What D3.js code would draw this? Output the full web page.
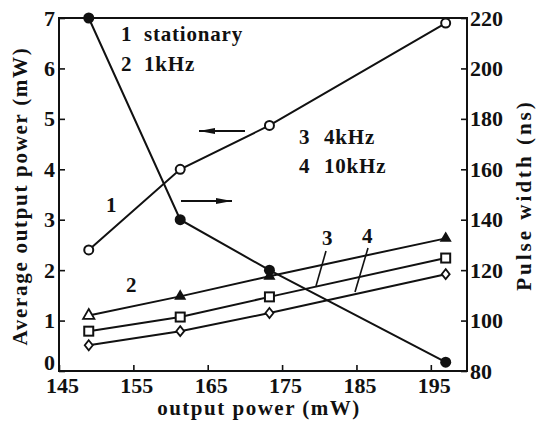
<!DOCTYPE html>
<html lang="en">
<head>
    <meta charset="UTF-8">
    <title>Output power vs pulse width</title>
    <script src="https://d3js.org/d3.v7.min.js"></script>
    <style>
        body { margin: 0; background: #fff; }
        text { font-family: "Liberation Serif", "DejaVu Serif", serif; fill: #111; font-weight: bold; }
    </style>
</head>
<body>
<script>
    // data
    var powers = [149, 161.3, 173.3, 197];           // output power (mW)
    var stationary = [2.4, 4.0, 4.87, 6.9];          // curve 1, average output power (mW)
    var khz1 = [1.1, 1.48, 1.88, 2.63];              // curve 2
    var khz4 = [0.79, 1.07, 1.47, 2.24];             // curve 3
    var khz10 = [0.51, 0.79, 1.15, 1.92];            // curve 4
    var pulseWidth = [220, 140, 120, 83.5];          // pulse width (ns), right axis
    var xTicks = [145, 155, 165, 175, 185, 195];
    var yTicks = [0, 1, 2, 3, 4, 5, 6, 7];
    var yRTicks = [80, 100, 120, 140, 160, 180, 200, 220];

    var width = 536, height = 423;
    var pLeft = 59, pRight = 467, pTop = 18, pBottom = 371;

    var svg = d3.select("body").append("svg")
        .attr("width", width)
        .attr("height", height);

    var x = d3.scaleLinear().domain([145, 200]).range([pLeft, pRight + 1]);
    var y = d3.scaleLinear().domain([0, 7]).range([pBottom, pTop]);
    var yR = d3.scaleLinear().domain([80, 220]).range([pBottom, pTop]);

    // axes, ticks pointing inward
    var gx = svg.append("g").attr("transform", "translate(0," + pBottom + ")")
        .call(d3.axisBottom(x).tickValues(xTicks).tickFormat(d3.format("d")).tickSize(-6).tickPadding(6));
    var gy = svg.append("g").attr("transform", "translate(" + pLeft + ",0)")
        .call(d3.axisLeft(y).tickValues(yTicks).tickFormat(d3.format("d")).tickSize(-6).tickPadding(4));
    var gr = svg.append("g").attr("transform", "translate(" + pRight + ",0)")
        .call(d3.axisRight(yR).tickValues(yRTicks).tickFormat(d3.format("d")).tickSize(-6).tickPadding(3));
    [gx, gy, gr].forEach(function(g) {
        g.select(".domain").remove();
        g.selectAll(".tick line").attr("stroke", "#111").attr("stroke-width", 1.6);
        g.selectAll(".tick text").attr("font-size", 22).attr("fill", "#111")
            .style("font-family", "Liberation Serif").style("font-weight", "bold");
    });
    gx.selectAll(".tick text").attr("dy", "0.71em").attr("dx", 3);
    gy.selectAll(".tick text").filter(function(d) { return d === 0; }).attr("dy", "-0.05em");

    svg.append("rect")
        .attr("x", pLeft).attr("y", pTop)
        .attr("width", pRight - pLeft).attr("height", pBottom - pTop)
        .attr("fill", "none").attr("stroke", "#111").attr("stroke-width", 2);

    var line = d3.line();
    function drawLine(vals, scale) {
        svg.append("path")
            .attr("d", line(powers.map(function(p, i) { return [x(p), scale(vals[i])]; })))
            .attr("fill", "none").attr("stroke", "#111").attr("stroke-width", 2);
    }
    drawLine(stationary, y);
    drawLine(khz1, y);
    drawLine(khz4, y);
    drawLine(khz10, y);
    drawLine(pulseWidth, yR);

    // markers
    powers.forEach(function(p, i) {
        svg.append("circle").attr("cx", x(p)).attr("cy", y(stationary[i])).attr("r", 4.5)
            .attr("fill", "#fff").attr("stroke", "#111").attr("stroke-width", 2);
        svg.append("rect").attr("x", x(p) - 4.5).attr("y", y(khz4[i]) - 4.5)
            .attr("width", 9).attr("height", 9)
            .attr("fill", "#fff").attr("stroke", "#111").attr("stroke-width", 2);
        svg.append("path").attr("d", "M0,-5L4,0L0,5L-4,0Z")
            .attr("transform", "translate(" + x(p) + "," + y(khz10[i]) + ")")
            .attr("fill", "#fff").attr("stroke", "#111").attr("stroke-width", 1.8);
        svg.append("path").attr("d", d3.symbol(d3.symbolTriangle, i == 0 ? 55 : 35)())
            .attr("transform", "translate(" + x(p) + "," + y(khz1[i]) + ")")
            .attr("fill", i == 0 ? "#fff" : "#111").attr("stroke", "#111").attr("stroke-width", 1.8);
        svg.append("circle").attr("cx", x(p)).attr("cy", yR(pulseWidth[i])).attr("r", 5.5)
            .attr("fill", "#111");
    });

    // arrows: tip at x2
    function arrow(x1, x2, yy) {
        svg.append("line").attr("x1", x1).attr("x2", x2).attr("y1", yy).attr("y2", yy)
            .attr("stroke", "#111").attr("stroke-width", 2);
        var dir = x2 > x1 ? 1 : -1;
        svg.append("path")
            .attr("d", "M" + x2 + "," + yy + "L" + (x2 - dir * 16) + "," + (yy - 3)
                + "L" + (x2 - dir * 16) + "," + (yy + 3) + "Z")
            .attr("fill", "#111");
    }
    arrow(245, 199, 131);
    arrow(181, 232, 201);

    // leader lines for curves 3 and 4
    svg.append("line").attr("x1", 326).attr("y1", 251).attr("x2", 316).attr("y2", 286)
        .attr("stroke", "#111").attr("stroke-width", 1.6);
    svg.append("line").attr("x1", 368).attr("y1", 248).attr("x2", 355).attr("y2", 292)
        .attr("stroke", "#111").attr("stroke-width", 1.6);

    // annotations
    function label(t, tx, ty) {
        svg.append("text").attr("x", tx).attr("y", ty).attr("font-size", 21)
            .attr("letter-spacing", 0.8).text(t);
    }
    label("1", 121, 41);
    label("stationary", 144, 41);
    label("2", 121, 71);
    label("1kHz", 144, 71);
    label("3", 299, 144);
    label("4kHz", 324, 144);
    label("4", 299, 173);
    label("10kHz", 324, 173);
    label("1", 106, 212);
    label("2", 126, 292);
    label("3", 322, 245);
    label("4", 362, 243);

    // axis titles
    svg.append("text").attr("x", 259).attr("y", 415).attr("text-anchor", "middle")
        .attr("font-size", 21).attr("letter-spacing", 1.5).text("output power (mW)");
    svg.append("text").attr("transform", "translate(27,196) rotate(-90)")
        .attr("text-anchor", "middle").attr("font-size", 21).attr("letter-spacing", 1.7)
        .text("Average output power (mW)");
    svg.append("text").attr("transform", "translate(531,195) rotate(-90)")
        .attr("text-anchor", "middle").attr("font-size", 21).attr("letter-spacing", 3)
        .text("Pulse width (ns)");
</script>
</body>
</html>
